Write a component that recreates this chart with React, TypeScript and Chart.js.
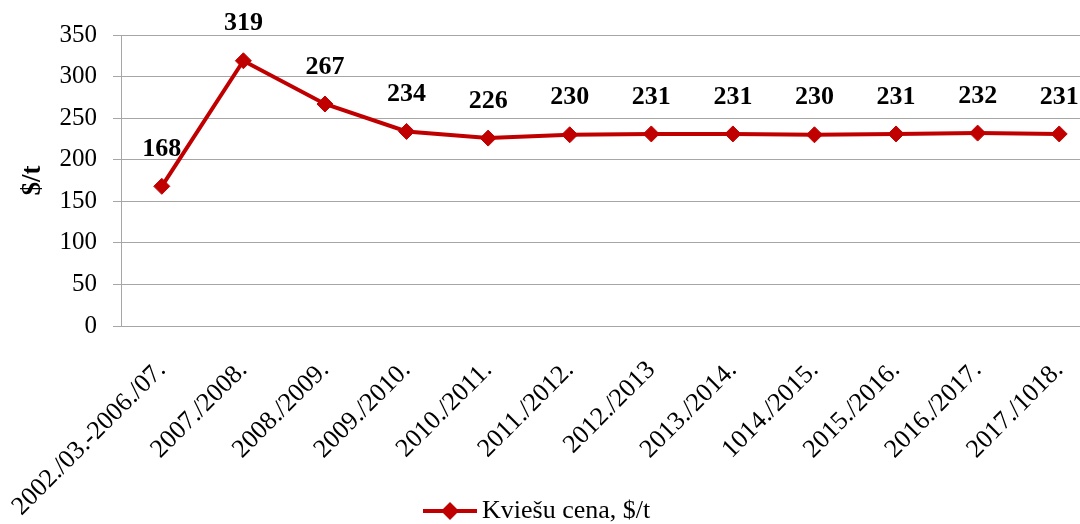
import React, { useEffect, useRef } from "react";
import { Chart, registerables } from "chart.js";

Chart.register(...registerables);

const categories = [
  "2002./03.-2006./07.",
  "2007./2008.",
  "2008./2009.",
  "2009./2010.",
  "2010./2011.",
  "2011./2012.",
  "2012./2013",
  "2013./2014.",
  "1014./2015.",
  "2015./2016.",
  "2016./2017.",
  "2017./1018.",
];
const wheatPrice = [168, 319, 267, 234, 226, 230, 231, 231, 230, 231, 232, 231];
const seriesLabel = "Kviešu cena, $/t";
const yTitle = "$/t";

const RED = "#C00000";
const GRID = "#A6A6A6";
const FONT = "'Liberation Serif', 'Times New Roman', serif";

const dataLabelPlugin = {
  id: "dataLabels",
  afterDatasetsDraw(chart: any) {
    const ctx = chart.ctx;
    const meta = chart.getDatasetMeta(0);
    const data = chart.data.datasets[0].data;
    ctx.save();
    ctx.font = `bold 26px ${FONT}`;
    ctx.fillStyle = "#000";
    ctx.textAlign = "center";
    ctx.textBaseline = "middle";
    meta.data.forEach((pt: any, i: number) => {
      ctx.fillText(String(data[i]), pt.x, pt.y - 37);
    });
    ctx.restore();
  },
};

const legendPlugin = {
  id: "customLegend",
  afterDraw(chart: any) {
    const ctx = chart.ctx;
    const ds = chart.data.datasets[0];
    const y = 511;
    const x0 = 423;
    ctx.save();
    ctx.strokeStyle = ds.borderColor;
    ctx.lineWidth = 4;
    ctx.beginPath();
    ctx.moveTo(x0, y);
    ctx.lineTo(x0 + 54, y);
    ctx.stroke();
    ctx.fillStyle = ds.borderColor;
    ctx.beginPath();
    ctx.moveTo(x0 + 27, y - 9);
    ctx.lineTo(x0 + 36, y);
    ctx.lineTo(x0 + 27, y + 9);
    ctx.lineTo(x0 + 18, y);
    ctx.closePath();
    ctx.fill();
    ctx.font = `26px ${FONT}`;
    ctx.fillStyle = "#000";
    ctx.textAlign = "left";
    ctx.textBaseline = "middle";
    ctx.fillText(ds.label, x0 + 59, y);
    ctx.restore();
  },
};

export default function App() {
  const ref = useRef<HTMLCanvasElement>(null);
  useEffect(() => {
    if (!ref.current) return;
    const chart = new Chart(ref.current, {
      type: "line",
      data: {
        labels: categories,
        datasets: [
          {
            label: seriesLabel,
            data: wheatPrice,
            borderColor: RED,
            backgroundColor: RED,
            borderWidth: 4,
            pointStyle: "rectRot",
            pointRadius: 8,
            pointHoverRadius: 8,
            pointBorderWidth: 1,
            pointBackgroundColor: RED,
            pointBorderColor: RED,
            tension: 0,
          },
        ],
      },
      options: {
        animation: false,
        responsive: false,
        layout: { padding: { top: 35, right: 1, left: 0, bottom: 0 } },
        plugins: {
          tooltip: { enabled: false },
          legend: { display: false },
        },
        scales: {
          x: {
            offset: true,
            grid: { display: false, drawTicks: false },
            border: { display: true, color: GRID, width: 1 },
            ticks: {
              autoSkip: false,
              maxRotation: 45,
              minRotation: 45,
              padding: 29,
              color: "#000",
              font: { family: FONT, size: 26 },
            },
            afterFit: (s: any) => {
              s.height = 198;
              s.paddingLeft = 0;
              s.paddingRight = 0;
            },
          },
          y: {
            min: 0,
            max: 350,
            ticks: {
              stepSize: 50,
              padding: 16,
              color: "#000",
              font: { family: FONT, size: 25 },
            },
            grid: { color: GRID, lineWidth: 1, tickLength: 8 },
            border: { display: true, color: GRID, width: 1 },
            title: {
              display: true,
              text: yTitle,
              color: "#000",
              font: { family: FONT, size: 27, weight: "bold" },
              padding: { top: 17, bottom: 0 },
            },
            afterFit: (s: any) => {
              s.width = 121;
            },
          },
        },
      },
      plugins: [dataLabelPlugin, legendPlugin],
    });
    return () => chart.destroy();
  }, []);
  return (
    <div
      style={{
        position: "fixed",
        left: 0,
        top: 0,
        width: 1080,
        height: 524,
        overflow: "hidden",
        background: "#fff",
      }}
    >
      <canvas ref={ref} width={1109} height={524} style={{ display: "block" }} />
    </div>
  );
}
